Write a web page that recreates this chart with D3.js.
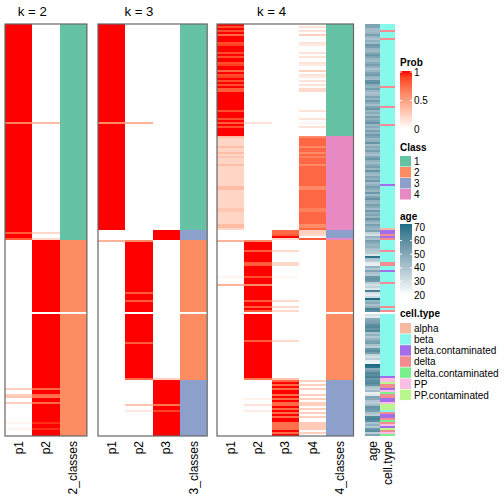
<!DOCTYPE html>
<html><head><meta charset="utf-8">
<script src="https://cdn.jsdelivr.net/npm/d3@7"></script>
<style>body{margin:0;background:#fff}svg{display:block}text{font-family:"Liberation Sans",Arial,sans-serif}</style>
</head><body><svg id="c" width="504" height="504"></svg>
<script>
// ---------- data (run-length: [count, value]) ----------
const k2p1 = [[49,1],[1,0.65],[54,1],[1,0.8],[2,1],[1,0.8],[36,0],[1,null],[37,0],[1,0.25],[2,0],[1,0.25],[1,0.3],[2,0],[1,0.25],[9,0],[1,0.06],[2,0],[1,0.06],[3,0]];
const k2p2 = [[49,0],[1,0.35],[54,0],[1,0.2],[2,0],[1,0.2],[36,1],[1,null],[37,1],[1,0.75],[2,1],[1,0.75],[1,0.7],[2,1],[1,0.75],[9,1],[1,0.94],[2,1],[1,0.94],[3,1]];
const k2cls = [[108,1],[36,2],[1,null],[61,2]];

const k3p1 = [[49,1],[1,0.6],[53,1],[5,0],[1,0.4],[35,0],[1,null],[61,0]];
const k3p2 = [[49,0],[1,0.4],[58,0],[1,0.6],[25,1],[1,0.8],[3,1],[1,0.8],[5,1],[1,null],[14,1],[1,0.8],[17,1],[1,0.75],[12,0],[1,0.3],[2,0],[1,0.12],[12,0]];
const k3p3 = [[103,0],[5,1],[36,0],[1,null],[32,0],[1,0.25],[12,1],[1,0.7],[2,1],[1,0.88],[12,1]];
const k3cls = [[103,1],[5,3],[36,2],[1,null],[33,2],[28,3]];

const k4p1 = [[1,1],[1,0.85],[1,1],[1,0.85],[1,1],[1,0.75],[3,1],[1,0.85],[1,0.9],[3,1],[1,0.85],[1,1],[1,0.85],[2,1],[1,0.85],[1,0.9],[2,1],[1,0.75],[1,1],[1,0.85],[1,0.9],[1,1],[1,0.85],[1,1],[1,0.85],[1,1],[2,0.8],[9,1],[1,0.85],[3,1],[1,0.85],[1,1],[1,0.8],[1,1],[1,0.85],[4,1],
  [1,0.35],[4,0.22],[1,0.35],[2,0.22],[1,0.35],[1,0.22],[1,0.3],[3,0.22],[1,0.35],[10,0.22],[2,0.35],[9,0.22],[2,0.3],[6,0.22],[2,0.35],[1,0.22],
  [5,0],[1,0.4],[17,0],[1,0.06],[3,0],[1,0.4],[13,0],[1,null],[33,0],[28,0]];
const k4p2 = [[49,0],[1,0.15],[58,0],[1,0.6],[4,1],[1,0.8],[5,1],[2,0.8],[5,1],[1,0.85],[3,1],[1,0.6],[7,1],[1,0.8],[2,1],[1,0.8],[1,1],[1,0.8],[1,null],[13,1],[1,0.8],[18,1],[1,0.7],[9,0],[1,0.08],[2,0],[1,0.15],[2,0],[1,0.1],[12,0]];
const k4p3 = [[103,0],[2,0.75],[1,0.8],[1,1],[1,0.2],[5,0],[1,0.2],[5,0],[2,0.2],[5,0],[1,0.05],[11,0],[1,0.2],[2,0],[1,0.2],[1,0],[1,0.2],[1,null],[13,0],[1,0.2],[18,0],[1,0.3],
  [1,0.75],[1,1],[1,0.75],[1,1],[1,0.75],[2,1],[1,0.75],[1,1],[1,0.75],[1,1],[2,0.75],[1,1],[1,0.75],[1,1],[1,0.75],[1,1],[1,0.75],[2,1],[4,0.72],[1,1],[1,0.75],[1,1]];
const k4p4 = [[1,0],[1,0.15],[1,0],[1,0.15],[1,0],[1,0.25],[3,0],[1,0.15],[1,0.1],[3,0],[1,0.15],[1,0],[1,0.15],[2,0],[1,0.15],[1,0.1],[2,0],[1,0.25],[1,0],[1,0.15],[1,0.1],[1,0],[1,0.15],[1,0],[1,0.15],[1,0],[2,0.2],[9,0],[1,0.15],[3,0],[1,0.15],[1,0],[1,0.05],[1,0],[1,0.15],[4,0],
  [1,0.6],[4,0.76],[1,0.6],[2,0.76],[1,0.6],[1,0.76],[1,0.65],[3,0.76],[1,0.6],[10,0.76],[2,0.6],[9,0.76],[2,0.65],[6,0.76],[2,0.6],[1,0.76],
  [2,0.25],[1,0.2],[1,0],[1,0.8],[36,0],[1,null],[33,0],
  [1,0.25],[1,0],[1,0.25],[1,0],[1,0.25],[2,0],[1,0.25],[1,0],[1,0.25],[1,0],[2,0.25],[1,0],[1,0.25],[1,0],[1,0.25],[1,0],[1,0.25],[2,0],[4,0.28],[1,0],[1,0.25],[1,0]];
const k4cls = [[56,1],[47,4],[4,3],[1,4],[36,2],[1,null],[33,2],[28,3]];

const ages = [50,50,42,42,44,52,44,40,46,42, 55,52,45,42,48,55,50,44,42,48,
  52,46,40,44,50,54,45,42,56,58, 48,45,52,44,40,42,50,45,53,47,
  41,50,55,44,48,42,52,46,50,56, 44,48,42,52,46,54,50,44,46,56,
  42,48,45,52,44,40,50,55,46,42, 48,52,44,56,45,42,50,46,54,42,
  46,52,48,44,55,42,50,56,46,44, 52,48,42,54,46,50,44,56,48,42,
  52,46,44,50,35,30,45,40,
  52,48,44,46,40,38,36,28,68,40, 36,26,25,45,38,50,40,38,55,56,
  54,36,30,34,28,62,30,26,32,70, 44,48,40,46,62,58,null,30,26,48,
  50,52,58,60,56,60,40,46,38,44, 50,52,40,36,55,58,52,34,30,36,
  25,24,70,68,48,52,60,58,62,55, 58,60,56,40,36,42,25,28,50,48,
  38,36,42,56,55,52,40,36,60,62, 58,40,46,38,55,58,36,50];

const cellTypeRuns = [["beta",3],["delta",1],["beta",3],["delta",1],["beta",23],["delta",1],["beta",9],["delta",1],["beta",8],["delta",1],["beta",29],["beta.contaminated",1],["beta",21],["alpha",1],
  ["beta.contaminated",2],["delta",1],["beta.contaminated",1],["delta",1],
  ["beta",5],["delta",1],["beta",5],["delta",2],["beta",2],["beta.contaminated",1],["beta",5],["delta",1],["beta",11],["delta",1],["beta",1],["delta",1],[null,1],["beta",31],["beta.contaminated",1],["PP",1],
  ["PP",1],["PP.contaminated",1],["delta",2],["beta.contaminated",1],["PP",1],["delta.contaminated",1],["delta",2],["beta.contaminated",2],["PP",1],["PP.contaminated",3],["beta",1],["delta",1],["beta.contaminated",2],["delta",1],["delta.contaminated",1],["delta",1],["PP",1],["beta.contaminated",1],["PP.contaminated",1],["delta",1],["PP",1],["delta.contaminated",1]];

const classLevels = ["1","2","3","4"];
const classColors = ["#66C2A5","#FC8D62","#8DA0CB","#E78AC3"];
const cellTypes = ["alpha","beta","beta.contaminated","delta","delta.contaminated","PP","PP.contaminated"];
const cellColors = ["#F6B9A1","#87F9EC","#A46EEA","#F28C91","#79F08E","#F9BEE2","#B9F68D"];
const probTicks = [0,0.5,1];
const ageTicks = [20,30,40,50,60,70];

// ---------- helpers ----------
const expand = runs => runs.flatMap(([n,v]) => Array(n).fill(v));
const expandCT = runs => runs.flatMap(([v,n]) => Array(n).fill(v));
const cellTypeVals = expandCT(cellTypeRuns);
const N = ages.length;

const svg = d3.select("#c");
const FONT = '"Liberation Sans",Arial,sans-serif';
const y = d3.scaleBand().domain(d3.range(N)).range([24,436]).paddingInner(0);
const probColor = d3.scaleLinear().domain([0,1]).range(["#FFFFFF","#FF0000"]).interpolate(d3.interpolateLab);
const classColor = d3.scaleOrdinal().domain(classLevels).range(classColors);
const ageColor = d3.scaleLinear().domain([20,70]).range(["#FFFFFF","#1D6D86"]).interpolate(d3.interpolateLab);
const ctColor = d3.scaleOrdinal().domain(cellTypes).range(cellColors);

const colW = 27.3;
const panels = [
  {title:"k = 2", x0:5, cols:[["p1",k2p1,"p"],["p2",k2p2,"p"],["2_classes",k2cls,"c"]]},
  {title:"k = 3", x0:98, cols:[["p1",k3p1,"p"],["p2",k3p2,"p"],["p3",k3p3,"p"],["3_classes",k3cls,"c"]]},
  {title:"k = 4", x0:217, cols:[["p1",k4p1,"p"],["p2",k4p2,"p"],["p3",k4p3,"p"],["p4",k4p4,"p"],["4_classes",k4cls,"c"]]}
];

panels.forEach((P,pi) => {
  const names = P.cols.map(c=>c[0]);
  const x = d3.scaleBand().domain(names).range([P.x0, P.x0 + names.length*colW]);
  const g = svg.append("g");
  P.cols.forEach(([name, runs, type]) => {
    const vals = expand(runs);
    g.selectAll(null).data(vals.map((v,i)=>({v,i})).filter(d=>d.v!==null)).join("rect")
      .attr("x", x(name)).attr("y", d=>y(d.i)).attr("width", x.bandwidth()).attr("height", y.bandwidth())
      .attr("fill", d => type==="p" ? probColor(d.v) : classColor(String(d.v)))
      .attr("shape-rendering","crispEdges");
    g.append("text").attr("transform",`translate(${x(name)+x.bandwidth()/2+1},441) rotate(-90)`)
      .attr("text-anchor","end").attr("dominant-baseline","middle")
      .attr("font-size",12).attr("fill","#000").text(name);
  });
  g.append("rect").attr("x",P.x0).attr("y",24).attr("width",names.length*colW).attr("height",412)
    .attr("fill","none").attr("stroke","#666").attr("stroke-width",1.2);
  const probNames = names.slice(0,-1);
  const tx = (x(probNames[0]) + x(probNames[probNames.length-1]) + x.bandwidth())/2;
  g.append("text").attr("x",tx).attr("y",15.5).attr("text-anchor","middle").attr("font-size",13.2).text(P.title);
});

// annotation columns
const ax = d3.scaleBand().domain(["age","cell.type"]).range([365,395]).paddingInner(0.04);
svg.append("g").selectAll(null).data(ages.map((v,i)=>({v,i})).filter(d=>d.v!==null)).join("rect")
  .attr("x",ax("age")).attr("y",d=>y(d.i)).attr("width",ax.bandwidth()).attr("height",y.bandwidth())
  .attr("fill",d=>ageColor(d.v)).attr("shape-rendering","crispEdges");
svg.append("g").selectAll(null).data(cellTypeVals.map((v,i)=>({v,i})).filter(d=>d.v!==null)).join("rect")
  .attr("x",ax("cell.type")).attr("y",d=>y(d.i)).attr("width",ax.bandwidth()).attr("height",y.bandwidth())
  .attr("fill",d=>ctColor(d.v)).attr("shape-rendering","crispEdges");
["age","cell.type"].forEach(n => {
  svg.append("text").attr("transform",`translate(${ax(n)+ax.bandwidth()/2+1},441) rotate(-90)`)
    .attr("text-anchor","end").attr("dominant-baseline","middle").attr("font-size",12).text(n);
});

// ---------- legends ----------
const L = svg.append("g");
const lx = 400;
const defs = svg.append("defs");
function title(t, yc){ L.append("text").attr("x",lx).attr("y",yc+3.5).attr("font-size",10).attr("font-weight","bold").text(t); }
function label(t, yc){ L.append("text").attr("x",lx+14).attr("y",yc+3.6).attr("font-size",10).text(t); }

// Prob
title("Prob", 62);
const py = d3.scaleLinear().domain([0,1]).range([129,72]);
const gp = defs.append("linearGradient").attr("id","gp").attr("x1",0).attr("y1",1).attr("x2",0).attr("y2",0);
d3.range(0,1.001,0.1).forEach(t => gp.append("stop").attr("offset",t).attr("stop-color",probColor(t)));
L.append("rect").attr("x",lx).attr("y",71).attr("width",12).attr("height",58).attr("fill","url(#gp)");
probTicks.forEach(t => {
  label(String(t), py(t));
  if (t>0) { L.append("line").attr("x1",lx).attr("x2",lx+2).attr("y1",py(t)).attr("y2",py(t)).attr("stroke","#fff");
             L.append("line").attr("x1",lx+10).attr("x2",lx+12).attr("y1",py(t)).attr("y2",py(t)).attr("stroke","#fff"); }
});

// Class
title("Class", 147);
classLevels.forEach((c,i) => {
  L.append("rect").attr("x",lx).attr("y",156+i*11).attr("width",11).attr("height",10.5).attr("fill",classColor(c));
  label(c, 161.5+i*11);
});

// age
title("age", 216);
const ay = d3.scaleLinear().domain([20,70]).range([295,227]);
const ga = defs.append("linearGradient").attr("id","ga").attr("x1",0).attr("y1",1).attr("x2",0).attr("y2",0);
d3.range(0,1.001,0.1).forEach(t => ga.append("stop").attr("offset",t).attr("stop-color",ageColor(20+50*t)));
L.append("rect").attr("x",lx).attr("y",224).attr("width",12).attr("height",71).attr("fill","url(#ga)");
ageTicks.forEach(t => {
  label(String(t), ay(t));
  if (t>20 && t<70) { L.append("line").attr("x1",lx).attr("x2",lx+2).attr("y1",ay(t)).attr("y2",ay(t)).attr("stroke","#fff");
             L.append("line").attr("x1",lx+10).attr("x2",lx+12).attr("y1",ay(t)).attr("y2",ay(t)).attr("stroke","#fff"); }
});

// cell.type
title("cell.type", 313);
cellTypes.forEach((c,i) => {
  L.append("rect").attr("x",lx).attr("y",323+i*11.1).attr("width",11).attr("height",10.5).attr("fill",ctColor(c));
  label(c, 328.5+i*11.1);
});
</script></body></html>
